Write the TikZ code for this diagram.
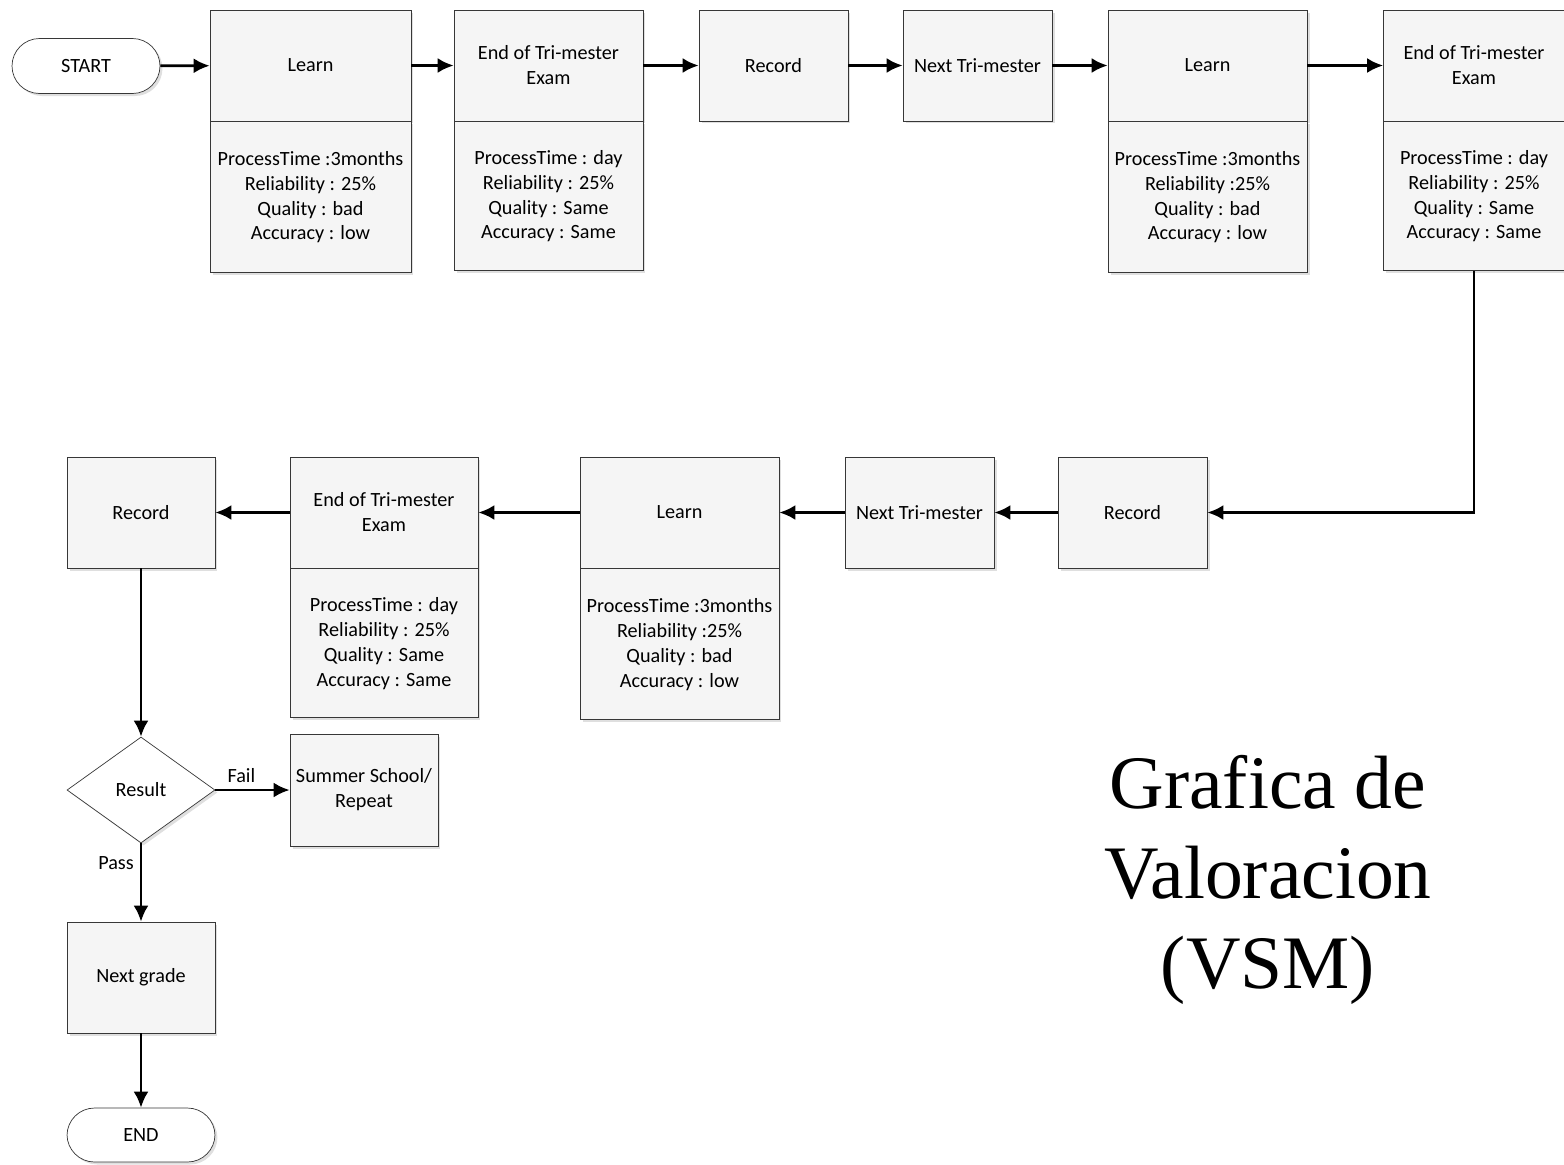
\documentclass[tikz,border=0pt]{standalone}
\usepackage{fontspec}
\setmainfont{Carlito}
\newfontfamily\titlefont{Liberation Serif}
\usepackage{tikz}
\usepackage{xcolor}
\usetikzlibrary{shapes,arrows.meta,positioning,shadows,shapes.geometric}
\definecolor{edge}{RGB}{55, 55, 55}
\definecolor{paper}{RGB}{245, 245, 245}
\tikzstyle{arrow} = [
    line width=1.6pt,
    -{Latex[length=3.2mm,width=3mm]},
    draw=black
]
\tikzstyle{stage} = [
    rectangle,
    minimum height=2.22cm,
    align=center,
    draw=edge,
    fill=paper,
    font=\fontsize{11.5}{14.2}\selectfont,
    drop shadow={shadow xshift=0.5mm, shadow yshift=-0.5mm, opacity=0.25}
]
\tikzstyle{info} = [
    stage,
    minimum height=3.02cm
]
\tikzstyle{term} = [
    rectangle,
    rounded corners=0.55cm,
    minimum width=2.96cm,
    minimum height=1.1cm,
    draw=edge,
    fill=white,
    font=\fontsize{11.5}{14.2}\selectfont,
    drop shadow={shadow xshift=0.5mm, shadow yshift=-0.5mm, opacity=0.25}
]
\tikzstyle{decide} = [
    diamond,
    minimum width=2.96cm,
    minimum height=2.12cm,
    inner sep=0pt,
    draw=edge,
    fill=white,
    font=\fontsize{11.5}{14.2}\selectfont,
    drop shadow={shadow xshift=0.5mm, shadow yshift=-0.5mm, opacity=0.25}
]
\tikzstyle{tag} = [
    font=\fontsize{11.5}{14.2}\selectfont
]

\begin{document}
\begin{tikzpicture}[x=0.02cm, y=-0.02cm]
    \useasboundingbox (0,0) rectangle (1564,1164);

    % top row
    \node[term] (start) at (86,66) {START};
    \node[stage, minimum width=4.02cm] (learnA) at (310.5,65.5) {Learn};
    \node[info, minimum width=4.02cm, below=0pt of learnA] (learnAi)
        {ProcessTime :3months\\Reliability : 25\%\\Quality : bad\\Accuracy : low};
    \node[stage, minimum width=3.78cm] (examA) at (548.5,65.5) {End of Tri-mester\\Exam};
    \node[info, minimum width=3.78cm, minimum height=2.98cm, below=0pt of examA] (examAi)
        {ProcessTime : day\\Reliability : 25\%\\Quality : Same\\Accuracy : Same};
    \node[stage, minimum width=2.98cm] (recA) at (773.5,65.5) {Record};
    \node[stage, minimum width=2.98cm] (nextA) at (977.5,65.5) {Next Tri-mester};
    \node[stage, minimum width=3.98cm] (learnB) at (1207.5,65.5) {Learn};
    \node[info, minimum width=3.98cm, below=0pt of learnB] (learnBi)
        {ProcessTime :3months\\Reliability :25\%\\Quality : bad\\Accuracy : low};
    \node[stage, minimum width=3.62cm] (examB) at (1474,65.5) {End of Tri-mester\\Exam};
    \node[info, minimum width=3.62cm, minimum height=2.98cm, below=0pt of examB] (examBi)
        {ProcessTime : day\\Reliability : 25\%\\Quality : Same\\Accuracy : Same};

    % bottom row
    \node[stage, minimum width=2.98cm] (recB) at (1132.5,512.5) {Record};
    \node[stage, minimum width=2.98cm] (nextB) at (919.5,512.5) {Next Tri-mester};
    \node[stage, minimum width=3.98cm] (learnC) at (679.5,512.5) {Learn};
    \node[info, minimum width=3.98cm, below=0pt of learnC] (learnCi)
        {ProcessTime :3months\\Reliability :25\%\\Quality : bad\\Accuracy : low};
    \node[stage, minimum width=3.76cm] (examC) at (384,512.5) {End of Tri-mester\\Exam};
    \node[info, minimum width=3.76cm, minimum height=2.98cm, below=0pt of examC] (examCi)
        {ProcessTime : day\\Reliability : 25\%\\Quality : Same\\Accuracy : Same};
    \node[stage, minimum width=2.96cm] (recC) at (141,512.5) {Record};

    % decision
    \node[decide] (result) at (141,790) {Result};
    \node[stage, minimum width=2.96cm, minimum height=2.24cm] (summer) at (364,790) {Summer School/\\Repeat};
    \node[stage, minimum width=2.96cm] (grade) at (141,977.5) {Next grade};
    \node[term, minimum height=1.08cm] (finish) at (141,1135) {END};

    \node[font=\titlefont\fontsize{43}{51.2}\selectfont, align=center] (title) at (1268,880)
        {Grafica de\\Valoracion\\(VSM)};

    \draw[arrow] (start) -- (learnA);
    \draw[arrow] (learnA) -- (examA);
    \draw[arrow] (examA) -- (recA);
    \draw[arrow] (recA) -- (nextA);
    \draw[arrow] (nextA) -- (learnB);
    \draw[arrow] (learnB) -- (examB);
    \draw[arrow] (examBi.south) |- (recB.east);
    \draw[arrow] (recB) -- (nextB);
    \draw[arrow] (nextB) -- (learnC);
    \draw[arrow] (learnC) -- (examC);
    \draw[arrow] (examC) -- (recC);
    \draw[arrow] (recC) -- (result);
    \draw[arrow] (result) -- node[tag, above, pos=0.35] {Fail} (summer);
    \draw[arrow] (result) -- node[tag, left, pos=0.25] {Pass} (grade);
    \draw[arrow] (grade) -- (finish);
\end{tikzpicture}
\end{document}
